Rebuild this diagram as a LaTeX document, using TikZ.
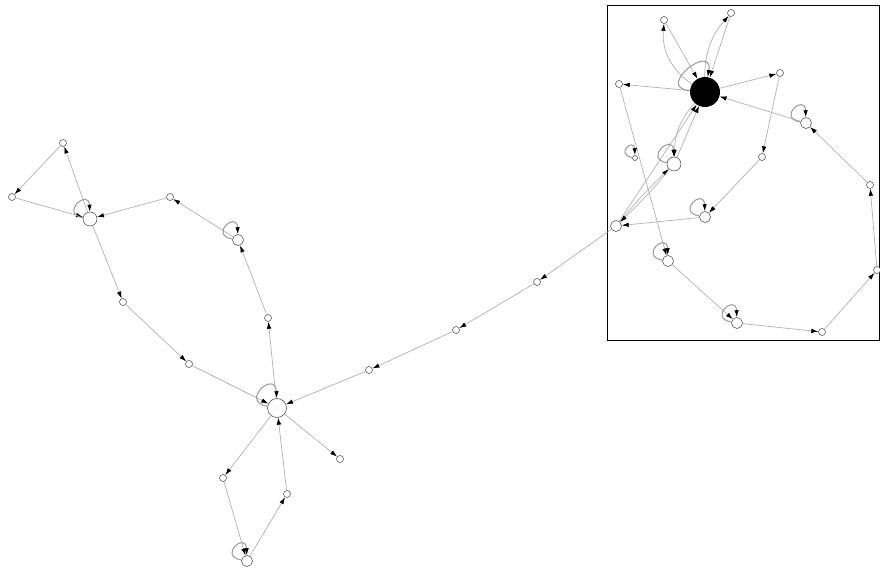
\documentclass[tikz,border=0pt]{standalone}
\usetikzlibrary{arrows.meta}
\begin{document}
\begin{tikzpicture}[
  x=1pt, y=1pt,
  dot/.style={circle, draw=black!75, line width=0.5pt, fill=white, inner sep=0pt, minimum size=7pt},
  midnode/.style={dot, minimum size=11pt},
  widenode/.style={dot, minimum size=14pt},
  hubnode/.style={dot, minimum size=19pt},
  corenode/.style={circle, fill=black, inner sep=0pt, minimum size=30pt},
  arr/.style={-{Latex[length=7pt,width=4.5pt,black]}, draw=black!30, line width=0.7pt},
  selfloop/.style={arr, draw=black!40, line width=1pt, out=170, in=92, looseness=6, min distance=24pt}
]
\useasboundingbox (0,0) rectangle (880,570);
\draw[line width=0.8pt] (607,230) rectangle (879,565);
\node[dot] (top) at (63,427) {};
\node[dot] (west) at (12,373) {};
\node[widenode] (knot) at (90,351) {};
\node[dot] (ridge) at (170,373) {};
\node[midnode] (crest) at (238,330) {};
\node[dot] (post) at (268,252) {};
\node[dot] (slope) at (123,268) {};
\node[dot] (dip) at (189,206) {};
\node[hubnode] (hub) at (277,162) {};
\node[dot] (spur) at (340,111) {};
\node[dot] (foot) at (223,92) {};
\node[dot] (toe) at (287,76) {};
\node[midnode] (heel) at (247,9) {};
\node[dot] (c1) at (369,200) {};
\node[dot] (c2) at (456,240) {};
\node[dot] (c3) at (537,288) {};
\node[midnode] (gate) at (616,344) {};
\node[corenode] (core) at (705,478) {};
\node[dot] (up1) at (664,550) {};
\node[dot] (up2) at (731,557) {};
\node[dot] (side) at (619,486) {};
\node[dot] (far) at (780,497) {};
\node[midnode] (ring) at (806,447) {};
\node[dot] (pend) at (762,413) {};
\node[widenode] (twin) at (674,406) {};
\node[midnode] (bay) at (705,353) {};
\node[midnode] (drift) at (668,309) {};
\node[midnode] (fall) at (737,247) {};
\node[dot] (east3) at (822,238) {};
\node[dot] (east2) at (877,300) {};
\node[dot] (east1) at (870,385) {};
\node[dot, minimum size=5pt] (wisp) at (635,412) {};
\draw[arr] (knot) -- (top);
\draw[arr] (top) -- (west);
\draw[arr] (west) -- (knot);
\draw[arr] (ridge) -- (knot);
\draw[arr] (crest) -- (ridge);
\draw[arr] (knot) -- (slope);
\draw[arr] (slope) -- (dip);
\draw[arr] (dip) -- (hub);
\draw[arr] (hub) -- (post);
\draw[arr] (post) -- (crest);
\draw[arr] (hub) -- (spur);
\draw[arr] (hub) -- (foot);
\draw[arr] (foot) -- (heel);
\draw[arr] (heel) -- (toe);
\draw[arr] (toe) -- (hub);
\draw[arr] (gate) -- (c3);
\draw[arr] (c3) -- (c2);
\draw[arr] (c2) -- (c1);
\draw[arr] (c1) -- (hub);
\draw[arr] (core) to[bend left=30] (up1);
\draw[arr] (up1) -- (core);
\draw[arr] (core) to[bend left=20] (up2);
\draw[arr] (up2) -- (core);
\draw[arr] (core) -- (side);
\draw[arr] (core) -- (far);
\draw[arr] (far) -- (pend);
\draw[arr] (pend) -- (bay);
\draw[arr] (bay) -- (gate);
\draw[arr] (ring) -- (core);
\draw[arr] (east1) -- (ring);
\draw[arr] (east2) -- (east1);
\draw[arr] (east3) -- (east2);
\draw[arr] (fall) -- (east3);
\draw[arr] (drift) -- (fall);
\draw[arr] (side) -- (drift);
\draw[arr] (gate) to[bend left=3] (twin);
\draw[arr] (twin) to[bend left=3] (gate);
\draw[arr] (gate) -- (core);
\draw[arr] (twin) -- (core);
\draw[arr] (core) to[bend right=20] (twin);
\draw[selfloop] (knot) to (knot);
\draw[selfloop] (crest) to (crest);
\draw[selfloop, min distance=28pt] (hub) to (hub);
\draw[selfloop] (heel) to (heel);
\draw[selfloop, out=175, in=80, looseness=3, min distance=36pt] (core) to (core);
\draw[selfloop] (ring) to (ring);
\draw[selfloop] (twin) to (twin);
\draw[selfloop] (bay) to (bay);
\draw[selfloop] (drift) to (drift);
\draw[selfloop] (fall) to (fall);
\draw[selfloop, min distance=18pt] (wisp) to (wisp);
\end{tikzpicture}
\end{document}
